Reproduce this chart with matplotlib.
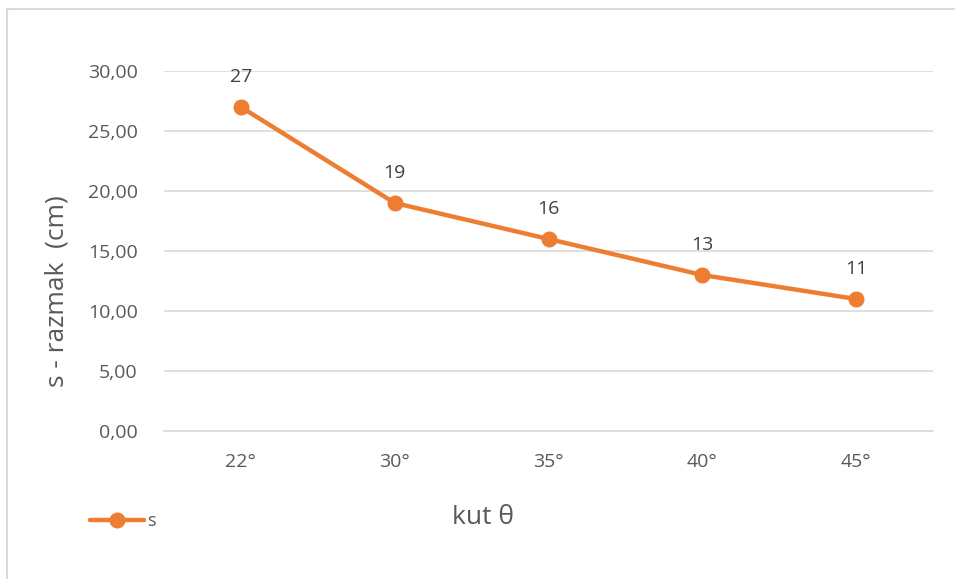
import matplotlib.pyplot as plt
from matplotlib.patches import Rectangle
from matplotlib.lines import Line2D

plt.rcParams['font.family'] = ['Open Sans', 'DejaVu Sans']

# kut i razmak
angles = ['22°', '30°', '35°', '40°', '45°']
s_values = [27, 19, 16, 13, 11]
y_ticks = [0, 5, 10, 15, 20, 25, 30]

orange = '#ED7D31'
grey_text = '#595959'
grid_col = '#D9D9D9'

fig = plt.figure(figsize=(9.55, 5.79), dpi=100)
ax = fig.add_axes([0.1717, 0.2556, 0.8053, 0.6218])

# chart frame (only top and left edges fall inside the image)
fig.patches.append(Rectangle((7 / 955, -0.1), 1.2, 1 - 9 / 579 + 0.1,
                             transform=fig.transFigure, fill=False,
                             edgecolor='#D9D9D9', linewidth=1.5))

x = list(range(len(angles)))
ax.plot(x, s_values, color=orange, linewidth=3.2, marker='o', markersize=10.5,
        solid_capstyle='round', zorder=3)

for xi, v in zip(x, s_values):
    ax.annotate(str(v), (xi, v), xytext=(0, 15), textcoords='offset points',
                ha='center', va='bottom', fontsize=14, color='#404040')

ax.set_xlim(-0.5, len(angles) - 0.5)
ax.set_ylim(0, 30)
ax.set_xticks(x)
ax.set_xticklabels(angles)
ax.set_yticks(y_ticks)
ax.set_yticklabels([f'{t:.2f}'.replace('.', ',') for t in y_ticks])
ax.tick_params(length=0, labelsize=14, labelcolor=grey_text)
ax.tick_params(axis='x', pad=16)
ax.tick_params(axis='y', pad=19)

ax.grid(axis='y', color=grid_col, linewidth=1.2)
ax.set_axisbelow(True)
for side in ['top', 'right', 'left']:
    ax.spines[side].set_visible(False)
ax.spines['bottom'].set_color(grid_col)
ax.spines['bottom'].set_linewidth(1.2)

# axis titles
fig.text(57 / 955, 1 - 291 / 579, 's - razmak  (cm)', rotation=90,
         ha='center', va='center', fontsize=19, color=grey_text)
fig.text(483 / 955, 1 - 517 / 579, 'kut θ', ha='center', va='center',
         fontsize=19, color=grey_text)

# legend in the lower left corner
handle = Line2D([], [], color=orange, linewidth=3.2, marker='o', markersize=10.5,
                solid_capstyle='round')
fig.legend([handle], ['s'], loc='center left', bbox_to_anchor=(0.085, 0.1),
           frameon=False, fontsize=13, labelcolor=grey_text, handlelength=3.0,
           handletextpad=0.15, borderpad=0)

fig.savefig('out.png', dpi=100)
